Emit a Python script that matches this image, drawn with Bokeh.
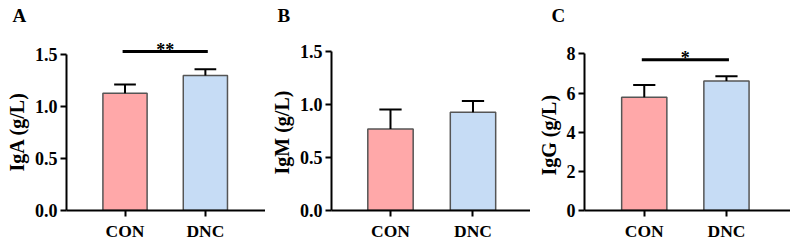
from bokeh.plotting import figure
from bokeh.layouts import row
from bokeh.models import Range1d, FixedTicker, ColumnDataSource, NumeralTickFormatter, Title
from bokeh.embed import file_html
from bokeh.resources import INLINE
from bokeh.core.properties import value

# ---------------- data ----------------
groups = ["CON", "DNC"]
panel_letters = ["A", "B", "C"]
y_labels = ["IgA (g/L)", "IgM (g/L)", "IgG (g/L)"]

iga_mean = [1.125, 1.295]
iga_err = [0.085, 0.06]
igm_mean = [0.77, 0.93]
igm_err = [0.185, 0.105]
igg_mean = [5.78, 6.62]
igg_err = [0.63, 0.24]

y_ticks_a = [0, 0.5, 1.0, 1.5]
y_ticks_b = [0, 0.5, 1.0, 1.5]
y_ticks_c = [0, 2, 4, 6, 8]

sig_marks = ["**", None, "*"]
sig_levels = [1.525, None, 7.7]

bar_colors = ["#FFA8A9", "#C6DCF5"]

FONT = "Liberation Serif"

# ---------------- layout (pixels / ranges) ----------------
panels = [
    dict(means=iga_mean, errs=iga_err, ticks=y_ticks_a, fmt="0.0",
         width=265, height=243, left=62, bottom=30, top=26, xr=(-0.728, 1.748),
         px_per_unit=106.5, title_offset=-54, ylab_offset=39),
    dict(means=igm_mean, errs=igm_err, ticks=y_ticks_b, fmt="0.0",
         width=265, height=243, left=66, bottom=32, top=26, xr=(-0.715, 1.697),
         px_per_unit=106.9, title_offset=-54, ylab_offset=36),
    dict(means=igg_mean, errs=igg_err, ticks=y_ticks_c, fmt="0",
         width=260, height=243, left=54, bottom=30, top=26, xr=(-0.727, 1.779),
         px_per_unit=20.0, title_offset=-33, ylab_offset=35),
]


def make_panel(i, cfg):
    W, H, L, B, T = cfg["width"], cfg["height"], cfg["left"], cfg["bottom"], cfg["top"]
    xs, xe = cfg["xr"]
    fh = H - B - T
    ye = fh / cfg["px_per_unit"]
    p = figure(width=W, height=H, x_range=Range1d(xs, xe), y_range=Range1d(0, ye),
               output_backend="svg", toolbar_location=None,
               min_border_left=L, min_border_right=0, min_border_top=T,
               min_border_bottom=B, title=panel_letters[i])
    p.outline_line_color = None
    p.grid.visible = False
    p.background_fill_color = "white"
    p.border_fill_color = "white"

    p.title.align = "left"
    p.title.offset = cfg["title_offset"]
    p.title.standoff = 4
    p.title.text_font = FONT
    p.title.text_font_style = "bold"
    p.title.text_font_size = "19px"
    p.title.text_color = "black"

    x = list(range(len(groups)))
    means = cfg["means"]
    errs = cfg["errs"]
    src = ColumnDataSource(dict(
        x=x, top=means, up=[m + e for m, e in zip(means, errs)],
        c0=[v - 0.135 for v in x], c1=[v + 0.135 for v in x],
        color=bar_colors))
    p.vbar(x="x", top="top", width=0.55, fill_color="color",
           line_color="#555555", line_width=1.5, source=src)
    p.segment(x0="x", y0="top", x1="x", y1="up", line_color="black",
              line_width=2, source=src)
    p.segment(x0="c0", y0="up", x1="c1", y1="up", line_color="black",
              line_width=2, source=src)

    if sig_marks[i]:
        h = sig_levels[i]
        p.segment(x0=[x[0] - 0.03], x1=[x[-1] + 0.03], y0=[h], y1=[h],
                  line_color="black", line_width=3)
        p.text(x=[(x[0] + x[-1]) / 2], y=[h], text=[sig_marks[i]],
               text_align="center", text_baseline="alphabetic", y_offset=-2,
               text_font=value(FONT), text_font_style="bold",
               text_font_size="18px", text_color="black")

    # axes
    for ax in (p.xaxis[0], p.yaxis[0]):
        ax.axis_line_width = 2
        ax.axis_line_color = "black"
        ax.major_tick_line_width = 2
        ax.major_tick_line_color = "black"
        ax.major_tick_in = 0
        ax.major_tick_out = 6
        ax.minor_tick_line_color = None
        ax.major_label_text_font = FONT
        ax.major_label_text_font_style = "bold"
        ax.major_label_text_color = "black"

    p.yaxis.major_label_text_font_size = "18px"
    p.xaxis.major_label_text_font_size = "17.5px"

    p.yaxis.ticker = FixedTicker(ticks=cfg["ticks"])
    p.yaxis.bounds = (0, cfg["ticks"][-1])
    p.yaxis.formatter = NumeralTickFormatter(format=cfg["fmt"])
    p.yaxis.major_label_standoff = 3

    # y-axis title, centred on the axis span (0 .. top tick) like the original
    p.add_layout(Title(text=y_labels[i], align="left", offset=cfg["ylab_offset"],
                       standoff=7, text_font=FONT, text_font_style="bold",
                       text_font_size="20px", text_color="black"), "left")

    p.xaxis.ticker = FixedTicker(ticks=x)
    p.xaxis.major_label_overrides = {v: g for v, g in zip(x, groups)}
    p.xaxis.major_label_standoff = 4
    return p


figs = [make_panel(i, c) for i, c in enumerate(panels)]
layout = row(*figs, spacing=0)
open("out.html", "w").write(file_html(layout, INLINE))
